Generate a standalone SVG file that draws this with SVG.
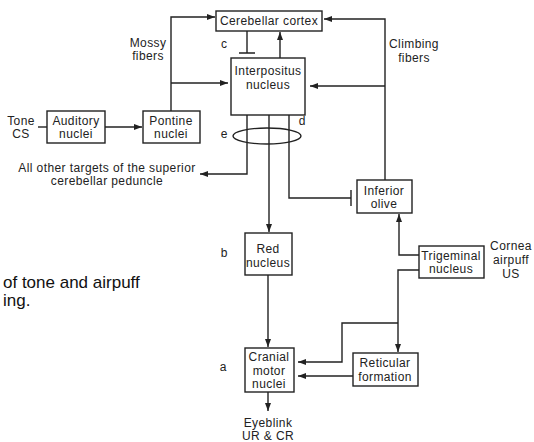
<svg xmlns="http://www.w3.org/2000/svg" width="534" height="442" viewBox="0 0 534 442">
<style>
  .box { fill: #fff; stroke: #222; stroke-width: 1.4; }
  .t { font-family: "Liberation Sans", Arial, sans-serif; font-size: 12px; letter-spacing: 0.4px; fill: #222; text-anchor: middle; }
  .lbl { font-family: "Liberation Sans", Arial, sans-serif; font-size: 12px; fill: #222; text-anchor: middle; }
  .cap { font-family: "Liberation Sans", Arial, sans-serif; font-size: 17px; fill: #111; }
  .c { fill: none; stroke: #222; stroke-width: 1.4; }
</style>
<defs>
  <marker id="arr" markerUnits="userSpaceOnUse" markerWidth="9" markerHeight="7" refX="8" refY="3" orient="auto">
    <path d="M0,0 L8,3 L0,6 z" fill="#222"/>
  </marker>
</defs>
<rect width="534" height="442" fill="#fff"/>

<g id="connectors">
  <!-- cortex inhibits interpositus -->
  <path class="c" d="M247,31 V53 M239,53 H255"/>
  <!-- interpositus to cortex -->
  <path class="c" d="M280,58 V32" marker-end="url(#arr)"/>
  <!-- mossy fibers -->
  <path class="c" d="M171,111 V17 H215" marker-end="url(#arr)"/>
  <path class="c" d="M171,83 H228" marker-end="url(#arr)"/>
  <!-- climbing fibers -->
  <path class="c" d="M385,180 V19 H324" marker-end="url(#arr)"/>
  <path class="c" d="M385,86 H310" marker-end="url(#arr)"/>
  <!-- tone to auditory -->
  <path class="c" d="M38,127 H47"/>
  <!-- auditory to pontine -->
  <path class="c" d="M105,127 H142" marker-end="url(#arr)"/>
  <!-- interpositus outputs -->
  <path class="c" d="M247,115 V174 H200" marker-end="url(#arr)"/>
  <path class="c" d="M269,115 V232" marker-end="url(#arr)"/>
  <path class="c" d="M289,115 V198 H351 M351,190 V206"/>
  <ellipse class="c" cx="267" cy="136" rx="34" ry="8"/>
  <!-- red to cranial -->
  <path class="c" d="M268,275 V347" marker-end="url(#arr)"/>
  <!-- cranial to eyeblink -->
  <path class="c" d="M268,392 V411" marker-end="url(#arr)"/>
  <!-- trigeminal to olive -->
  <path class="c" d="M419,255 H399 V214" marker-end="url(#arr)"/>
  <!-- trigeminal to reticular and cranial -->
  <path class="c" d="M419,270 H398 V352" marker-end="url(#arr)"/>
  <path class="c" d="M398,323 H342 V362 H298" marker-end="url(#arr)"/>
  <!-- reticular to cranial -->
  <path class="c" d="M353,376 H298" marker-end="url(#arr)"/>
</g>

<g id="cerebellar-cortex">
  <rect class="box" x="216" y="11" width="106" height="20"/>
  <text class="t" x="269" y="25">Cerebellar cortex</text>
</g>
<g id="interpositus-nucleus">
  <rect class="box" x="231" y="58" width="74" height="57"/>
  <text class="t" x="268" y="75">Interpositus</text>
  <text class="t" x="268" y="89">nucleus</text>
</g>
<g id="auditory-nuclei">
  <rect class="box" x="47" y="111" width="58" height="32"/>
  <text class="t" x="76" y="125">Auditory</text>
  <text class="t" x="76" y="138">nuclei</text>
</g>
<g id="pontine-nuclei">
  <rect class="box" x="143" y="111" width="57" height="32"/>
  <text class="t" x="171" y="125">Pontine</text>
  <text class="t" x="171" y="138">nuclei</text>
</g>
<g id="inferior-olive">
  <rect class="box" x="357" y="180" width="55" height="33"/>
  <text class="t" x="384" y="195">Inferior</text>
  <text class="t" x="384" y="208">olive</text>
</g>
<g id="red-nucleus">
  <rect class="box" x="245" y="233" width="47" height="42"/>
  <text class="t" x="268" y="253">Red</text>
  <text class="t" x="268" y="267">nucleus</text>
</g>
<g id="trigeminal-nucleus">
  <rect class="box" x="419" y="246" width="65" height="32"/>
  <text class="t" x="451" y="260">Trigeminal</text>
  <text class="t" x="451" y="273">nucleus</text>
</g>
<g id="reticular-formation">
  <rect class="box" x="353" y="353" width="65" height="33"/>
  <text class="t" x="385" y="367">Reticular</text>
  <text class="t" x="385" y="381">formation</text>
</g>
<g id="cranial-motor-nuclei">
  <rect class="box" x="245" y="348" width="49" height="44"/>
  <text class="t" x="269" y="361">Cranial</text>
  <text class="t" x="269" y="375">motor</text>
  <text class="t" x="269" y="388">nuclei</text>
</g>

<g id="labels">
  <text class="t" x="148" y="47">Mossy</text>
  <text class="t" x="148" y="60">fibers</text>
  <text class="t" x="414" y="48">Climbing</text>
  <text class="t" x="414" y="62">fibers</text>
  <text class="t" x="21" y="125">Tone</text>
  <text class="t" x="21" y="138">CS</text>
  <text class="t" x="107" y="172">All other targets of the superior</text>
  <text class="t" x="107" y="185">cerebellar peduncle</text>
  <text class="t" x="511" y="250">Cornea</text>
  <text class="t" x="511" y="264">airpuff</text>
  <text class="t" x="511" y="278">US</text>
  <text class="t" x="268" y="427">Eyeblink</text>
  <text class="t" x="268" y="440">UR &amp; CR</text>
  <text class="lbl" x="224" y="48">c</text>
  <text class="lbl" x="302" y="125">d</text>
  <text class="lbl" x="224" y="138">e</text>
  <text class="lbl" x="224" y="257">b</text>
  <text class="lbl" x="223" y="371">a</text>
  <text class="cap" x="3" y="288">of tone and airpuff</text>
  <text class="cap" x="3" y="306">ing.</text>
</g>
</svg>
